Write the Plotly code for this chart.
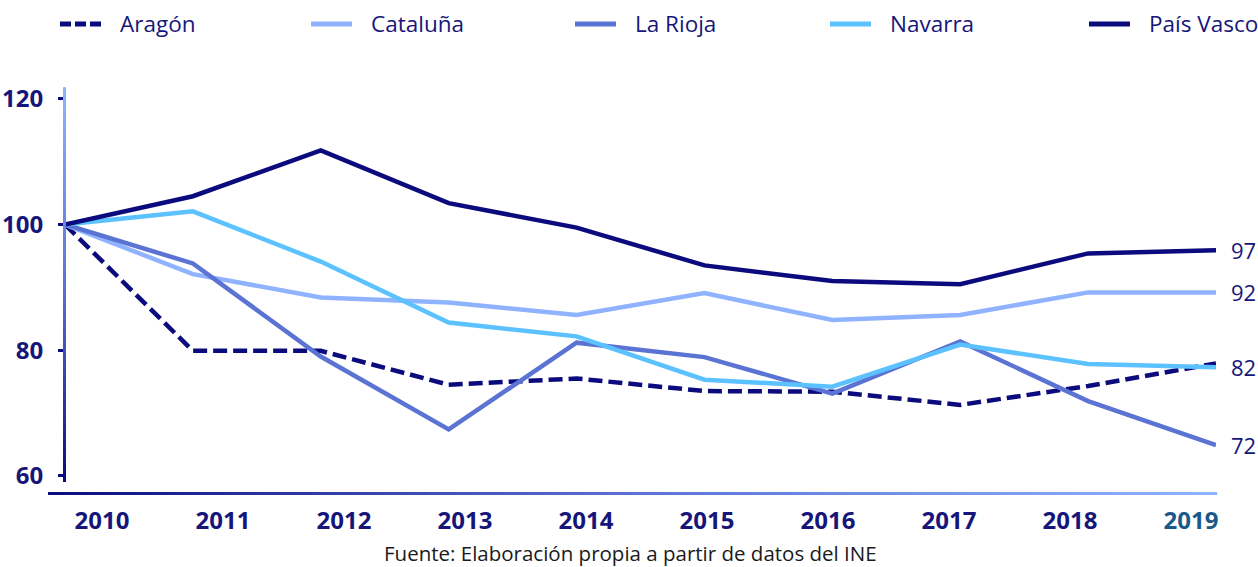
import plotly.graph_objects as go

# ---------------- data ----------------
years = [2010, 2011, 2012, 2013, 2014, 2015, 2016, 2017, 2018, 2019]
series_names = ["Aragón", "Cataluña", "La Rioja", "Navarra", "País Vasco"]
aragon = [100, 79.9, 79.9, 74.5, 75.5, 73.5, 73.4, 71.3, 74.3, 77.9]
cataluna = [100, 92.1, 88.4, 87.6, 85.6, 89.1, 84.8, 85.6, 89.2, 89.2]
la_rioja = [100, 93.8, 79.0, 67.4, 81.2, 78.9, 73.1, 81.4, 71.9, 64.9]
navarra = [100, 102.1, 94.1, 84.4, 82.2, 75.3, 74.2, 80.9, 77.8, 77.3]
pais_vasco = [100, 104.5, 111.8, 103.4, 99.5, 93.5, 91.0, 90.5, 95.4, 95.9]
y_ticks = [60, 80, 100, 120]
end_labels = {"País Vasco": "97", "Cataluña": "92", "Navarra": "82", "La Rioja": "72"}
source_text = "Fuente: Elaboración propia a partir de datos del INE"

values = [aragon, cataluna, la_rioja, navarra, pais_vasco]

# ---------------- style ----------------
W, H = 1258, 567
L, R, T, B = 65, 1216, 88, 482  # plot area in pixels
FONT = "Open Sans"
NAVY = "#0b0b7d"
TEXT = "#16167a"
colors = ["#0b0b7d", "#8fb3ff", "#5b73d3", "#5cc1ff", "#0b0b7d"]
dashes = ["14px,6px", "solid", "solid", "solid", "solid"]
legend_dashes = ["11px,4px", "solid", "solid", "solid", "solid"]


def px_x(p):
    return (p - L) / (R - L)


def px_y(p):
    return (B - p) / (B - T)


def mix(c1, c2, t):
    a = [int(c1[i:i + 2], 16) for i in (1, 3, 5)]
    b = [int(c2[i:i + 2], 16) for i in (1, 3, 5)]
    return "#%02x%02x%02x" % tuple(round(a[k] + (b[k] - a[k]) * t) for k in range(3))


fig = go.Figure()
for name, vals, col, dsh in zip(series_names, values, colors, dashes):
    fig.add_trace(go.Scatter(
        x=years, y=vals, name=name, mode="lines",
        line=dict(color=col, width=4.5, dash=dsh),
        showlegend=False, xaxis="x", yaxis="y",
    ))

# invisible trace on the label axis
fig.add_trace(go.Scatter(x=years, y=[None] * len(years), xaxis="x2", yaxis="y",
                         showlegend=False, hoverinfo="skip"))

shapes = []
annotations = []

# gradient axis lines
N = 80
LIGHT = "#8fb3ff"
MID = "#5b73d3"


def grad(t):
    return mix(NAVY, MID, t * 2) if t < 0.5 else mix(MID, LIGHT, (t - 0.5) * 2)


for i in range(N):
    t0, t1 = i / N, (i + 1) / N
    tm = (t0 + t1) / 2
    shapes.append(dict(type="line", xref="paper", yref="paper",
                       x0=px_x(64.5), x1=px_x(64.5), y0=t0, y1=t1 + 0.002,
                       line=dict(color=grad(tm), width=3)))
    x0 = px_x(48) + (px_x(1216) - px_x(48)) * t0
    x1 = px_x(48) + (px_x(1216) - px_x(48)) * t1
    shapes.append(dict(type="line", xref="paper", yref="paper",
                       x0=x0, x1=x1 + 0.001, y0=px_y(493.5), y1=px_y(493.5),
                       line=dict(color=grad(tm), width=3)))

# legend (drawn manually)
leg_sym_x = [60, 311, 575, 830, 1089]
for name, col, dsh, sx in zip(series_names, colors, legend_dashes, leg_sym_x):
    shapes.append(dict(type="line", xref="paper", yref="paper",
                       x0=px_x(sx), x1=px_x(sx + 41), y0=px_y(24), y1=px_y(24),
                       line=dict(color=col, width=5, dash=dsh)))
    annotations.append(dict(text=name, xref="paper", yref="paper",
                            x=px_x(sx + 58), y=px_y(24), xanchor="left", yanchor="middle",
                            showarrow=False, font=dict(family=FONT, size=22.5, color=TEXT)))

# end labels
for name, vals in zip(series_names, values):
    if name in end_labels:
        annotations.append(dict(text=end_labels[name], x=years[-1], y=vals[-1],
                                xref="x", yref="y", xanchor="left", yanchor="middle",
                                xshift=13, showarrow=False,
                                font=dict(family=FONT, size=22, color=TEXT)))

# source
annotations.append(dict(text=source_text, xref="paper", yref="paper",
                        x=px_x(630), y=px_y(553), xanchor="center", yanchor="middle",
                        showarrow=False, font=dict(family=FONT, size=20.5, color="#1a1a1a")))

ticktext = [str(y) for y in years[:-1]] + [
    "<span style='color:#1a5a8a'>%d</span>" % years[-1]]

fig.update_layout(
    width=W, height=H,
    margin=dict(l=L, r=W - R, t=T, b=H - B, pad=0, autoexpand=False),
    paper_bgcolor="white", plot_bgcolor="white",
    showlegend=False,
    xaxis=dict(range=[2010, 2019], showgrid=False, zeroline=False, showline=False,
               showticklabels=False, ticks="", automargin=False),
    xaxis2=dict(range=[2009.6942, 2019.2065], overlaying="x", anchor="y", side="bottom",
                tickmode="array", tickvals=years, ticktext=ticktext,
                showgrid=False, zeroline=False, showline=False, ticks="",
                ticklabelstandoff=22, automargin=False,
                tickfont=dict(family=FONT, size=24, color=TEXT, weight="bold")),
    yaxis=dict(range=[59.03, 121.72], tickmode="array", tickvals=y_ticks,
               showgrid=False, zeroline=False, showline=False,
               ticks="outside", ticklen=6, tickwidth=2.5, tickcolor=NAVY,
               ticklabelstandoff=10, automargin=False,
               tickfont=dict(family=FONT, size=24, color=TEXT, weight="bold")),
    shapes=shapes,
    annotations=annotations,
)

fig.write_html("out.html",
               config={"displayModeBar": False},
               post_script="document.body.style.margin='0';"
                           "document.body.style.overflow='hidden';")
